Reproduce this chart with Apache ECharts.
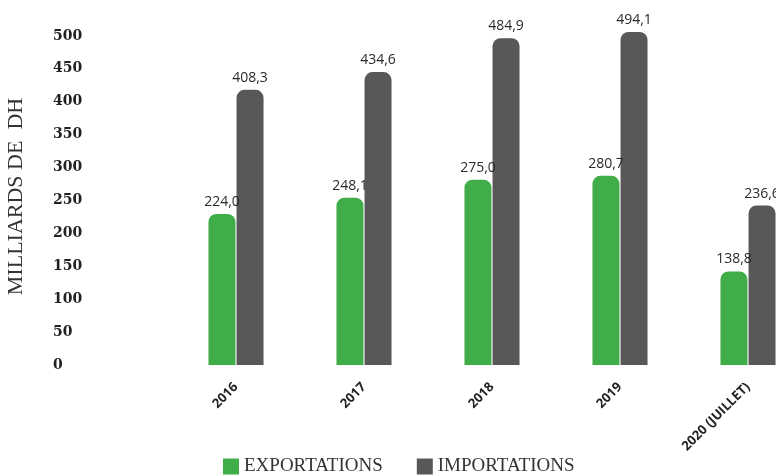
<!DOCTYPE html>
<html>
<head>
<meta charset="utf-8">
<script src="https://cdn.jsdelivr.net/npm/echarts@6/dist/echarts.min.js"></script>
<style>
  html, body { margin: 0; padding: 0; background: #fff; }
  #chart { width: 776px; height: 475px; }
</style>
</head>
<body>
<div id="chart"></div>
<script>
const years = ['2016', '2017', '2018', '2019', '2020 (JUILLET)']
const exportations = [224.0, 248.1, 275.0, 280.7, 138.8]
const importations = [408.3, 434.6, 484.9, 494.1, 236.6]
const yTicks = [0, 50, 100, 150, 200, 250, 300, 350, 400, 450, 500]

const green = '#41ad49'
const grey = '#58585a'

const chart = echarts.init(document.getElementById('chart'))

const fmt = p => p.value.toFixed(1).replace('.', ',')

const valueLabel = {
  show: true,
  position: 'top',
  distance: 5,
  color: '#2b2b2b',
  fontFamily: 'Open Sans',
  fontSize: 14,
  formatter: fmt
}

// the printed tick labels sit a bit tighter than the bars' own scale
const hiddenAxis = {
  axisLine: { show: false },
  axisTick: { show: false },
  splitLine: { show: false }
}

chart.setOption({
  animation: false,
  grid: { left: 172, width: 640, top: 28, bottom: 110, outerBoundsMode: 'none' },
  legend: {
    bottom: -6,
    left: 218,
    itemWidth: 16,
    itemHeight: 16,
    itemGap: 34,
    icon: 'rect',
    textStyle: { color: '#333', fontFamily: 'Liberation Serif', fontSize: 19 },
    data: ['EXPORTATIONS', 'IMPORTATIONS']
  },
  xAxis: {
    type: 'category',
    data: years,
    axisLine: { show: false },
    axisTick: { show: false },
    axisLabel: {
      rotate: 45,
      margin: 20,
      color: '#222',
      fontFamily: 'Open Sans',
      fontWeight: 'bold',
      fontSize: 13,
      interval: 0
    }
  },
  yAxis: [
    {
      ...hiddenAxis,
      type: 'value',
      min: 0,
      max: 500,
      interval: 50,
      name: 'MILLIARDS DE  DH',
      nameLocation: 'middle',
      nameGap: 145,
      nameTextStyle: { color: '#333', fontFamily: 'Liberation Serif', fontSize: 22 },
      axisLabel: { show: false }
    },
    {
      ...hiddenAxis,
      type: 'value',
      position: 'left',
      min: yTicks[0],
      max: 512,
      interval: 50,
      axisLabel: {
        align: 'left',
        margin: 119,
        showMaxLabel: false,
        color: '#222',
        fontFamily: 'DejaVu Serif',
        fontWeight: 'bold',
        fontSize: 14,
        formatter: v => (yTicks.includes(v) ? String(v) : '')
      }
    }
  ],
  series: [
    {
      name: 'EXPORTATIONS',
      type: 'bar',
      data: exportations,
      barWidth: 27,
      barGap: '4%',
      itemStyle: { color: green, borderRadius: [8, 8, 0, 0] },
      label: valueLabel
    },
    {
      name: 'IMPORTATIONS',
      type: 'bar',
      data: importations,
      barWidth: 27,
      itemStyle: { color: grey, borderRadius: [8, 8, 0, 0] },
      label: valueLabel
    }
  ]
})
</script>
</body>
</html>
